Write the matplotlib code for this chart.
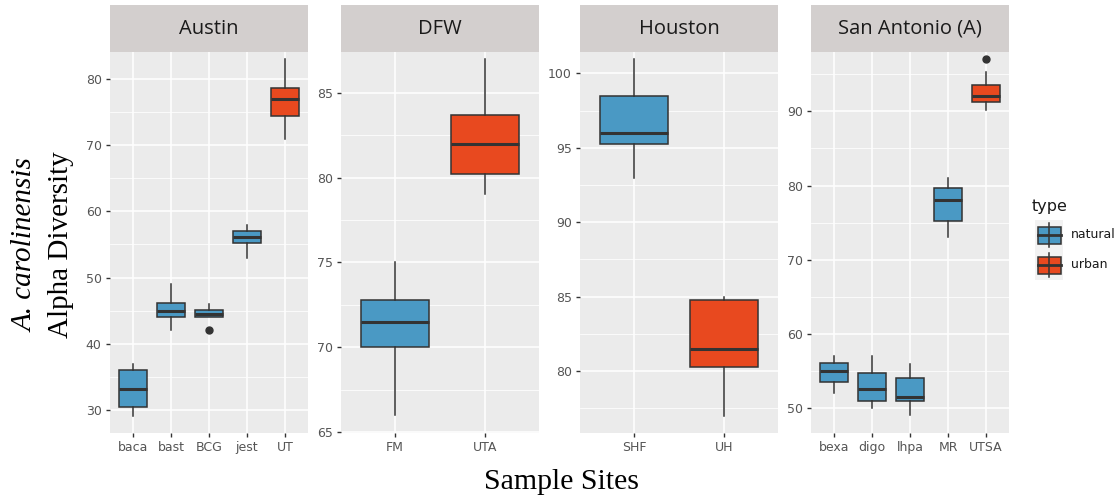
import matplotlib
matplotlib.use("Agg")
import matplotlib.pyplot as plt
from matplotlib.patches import Rectangle
from matplotlib.ticker import MultipleLocator

# ---------------- data ----------------
cities = ["Austin", "DFW", "Houston", "San Antonio (A)"]

austin_sites = ["baca", "bast", "BCG", "jest", "UT"]
austin_type = ["natural", "natural", "natural", "natural", "urban"]
austin_low = [29, 42, 44, 53, 71]
austin_q1 = [30.5, 44, 44, 55.3, 74.5]
austin_med = [33.2, 45, 44.5, 56.1, 77]
austin_q3 = [36, 46.1, 45.1, 57, 78.7]
austin_high = [37, 49, 46, 58, 83]
austin_out = [[], [], [42], [], []]

dfw_sites = ["FM", "UTA"]
dfw_type = ["natural", "urban"]
dfw_low = [66, 79]
dfw_q1 = [70, 80.2]
dfw_med = [71.5, 82]
dfw_q3 = [72.8, 83.7]
dfw_high = [75, 87]
dfw_out = [[], []]

houston_sites = ["SHF", "UH"]
houston_type = ["natural", "urban"]
houston_low = [93, 77]
houston_q1 = [95.25, 80.25]
houston_med = [96, 81.5]
houston_q3 = [98.5, 84.75]
houston_high = [101, 85]
houston_out = [[], []]

sa_sites = ["bexa", "digo", "lhpa", "MR", "UTSA"]
sa_type = ["natural", "natural", "natural", "natural", "urban"]
sa_low = [52, 50, 49, 73, 90.2]
sa_q1 = [53.5, 51, 51, 75.2, 91.3]
sa_med = [55, 52.6, 51.5, 78, 92.1]
sa_q3 = [56.1, 54.7, 54, 79.7, 93.6]
sa_high = [57, 57, 56, 81, 95.3]
sa_out = [[], [], [], [], [97]]

type_levels = ["natural", "urban"]

# ---------------- styling ----------------
colors = {"natural": "#4A99C4", "urban": "#E8491F"}
panel_bg = "#EBEBEB"
strip_bg = "#D3CFCE"
edge = "#333333"
tick_col = "#555555"

panels = [
    (austin_sites, austin_type, austin_low, austin_q1, austin_med, austin_q3, austin_high, austin_out,
     (26.5, 84.1), 10),
    (dfw_sites, dfw_type, dfw_low, dfw_q1, dfw_med, dfw_q3, dfw_high, dfw_out,
     (64.94, 87.4), 5),
    (houston_sites, houston_type, houston_low, houston_q1, houston_med, houston_q3, houston_high, houston_out,
     (75.83, 101.44), 5),
    (sa_sites, sa_type, sa_low, sa_q1, sa_med, sa_q3, sa_high, sa_out,
     (46.63, 98.0), 10),
]

W, H = 1118, 501
fig = plt.figure(figsize=(W / 100, H / 100), dpi=100)
fig.patch.set_facecolor("white")

panel_left_px = [110, 341, 580, 811]
panel_w_px = 198
panel_top_px, panel_bot_px = 52, 433
strip_top_px = 5

for i, (city, p) in enumerate(zip(cities, panels)):
    sites, types, lo, q1, med, q3, hi, out, ylim, step = p
    x0 = panel_left_px[i] / W
    ax = fig.add_axes([x0, 1 - panel_bot_px / H, panel_w_px / W,
                       (panel_bot_px - panel_top_px) / H])
    ax.set_facecolor(panel_bg)
    for s in ax.spines.values():
        s.set_visible(False)
    stats = []
    for j in range(len(sites)):
        stats.append(dict(whislo=lo[j], q1=q1[j], med=med[j], q3=q3[j],
                          whishi=hi[j], fliers=out[j], label=sites[j]))
    pos = list(range(1, len(sites) + 1))
    bp = ax.bxp(stats, positions=pos, widths=0.75, patch_artist=True,
                showcaps=False,
                boxprops=dict(edgecolor=edge, linewidth=1.1),
                whiskerprops=dict(color=edge, linewidth=1.1),
                medianprops=dict(color=edge, linewidth=2.2),
                flierprops=dict(marker="o", markerfacecolor=edge,
                                markeredgecolor=edge, markersize=5))
    for b, t in zip(bp["boxes"], types):
        b.set_facecolor(colors[t])
    ax.set_xlim(0.4, len(sites) + 0.6)
    ax.set_ylim(*ylim)
    ax.yaxis.set_major_locator(MultipleLocator(step))
    ax.yaxis.set_minor_locator(MultipleLocator(step / 2))
    ax.set_axisbelow(True)
    ax.grid(which="major", color="white", linewidth=1.1)
    ax.grid(which="minor", axis="y", color="white", linewidth=0.55)
    ax.set_xticks(pos)
    ax.set_xticklabels(sites)
    ax.tick_params(axis="both", which="major", length=3, width=1, color=edge,
                   labelcolor=tick_col, labelsize=9, pad=3)
    ax.tick_params(axis="both", which="minor", length=0)
    for lab in ax.get_xticklabels() + ax.get_yticklabels():
        lab.set_family("DejaVu Sans")

    # strip
    sax = fig.add_axes([x0, 1 - panel_top_px / H, panel_w_px / W,
                        (panel_top_px - strip_top_px) / H])
    sax.set_facecolor(strip_bg)
    sax.set_xticks([])
    sax.set_yticks([])
    for s in sax.spines.values():
        s.set_visible(False)
    sax.text(0.5, 0.5, city, ha="center", va="center", fontsize=14.5,
             family="Open Sans", color="#1A1A1A", transform=sax.transAxes)

# axis titles
fig.text(26 / W, 1 - 245 / H, "A. carolinensis", rotation=90, ha="center",
         va="center", family="Liberation Serif", style="italic", fontsize=21)
fig.text(61 / W, 1 - 245 / H, "Alpha Diversity", rotation=90, ha="center",
         va="center", family="Liberation Serif", fontsize=21)
fig.text(561 / W, 1 - 482 / H, "Sample Sites", ha="center", va="center",
         family="Liberation Serif", fontsize=21.5)

# ---------------- legend (drawn in a pixel-coordinate axes) ----------------
lx0, lx1, ly0, ly1 = 1022, 1118, 190, 290
lax = fig.add_axes([lx0 / W, 1 - ly1 / H, (lx1 - lx0) / W, (ly1 - ly0) / H])
lax.set_xlim(lx0, lx1)
lax.set_ylim(ly1, ly0)
lax.axis("off")
lax.text(1032, 207, "type", ha="left", va="center", fontsize=11.5,
         family="DejaVu Sans", color="#1A1A1A")
key_left, key_w = 1035, 28
key_top, key_h = 220, 30
for k, t in enumerate(type_levels):
    ky = key_top + k * key_h
    lax.add_patch(Rectangle((key_left, ky), key_w, key_h, facecolor="#F2F2F2",
                            edgecolor="none"))
    cx = key_left + key_w / 2
    cy = ky + key_h / 2
    lax.plot([cx, cx], [ky + 3, ky + key_h - 3], color=edge, lw=1.1)
    lax.add_patch(Rectangle((key_left + 2.5, cy - 8.5), key_w - 5, 17,
                            facecolor=colors[t], edgecolor=edge, lw=1.1))
    lax.plot([key_left + 2.5, key_left + key_w - 2.5], [cy, cy],
             color=edge, lw=2)
    lax.text(1071, cy, t, ha="left", va="center", fontsize=9,
             family="DejaVu Sans", color="#1A1A1A")

fig.savefig("out.png", dpi=100)
